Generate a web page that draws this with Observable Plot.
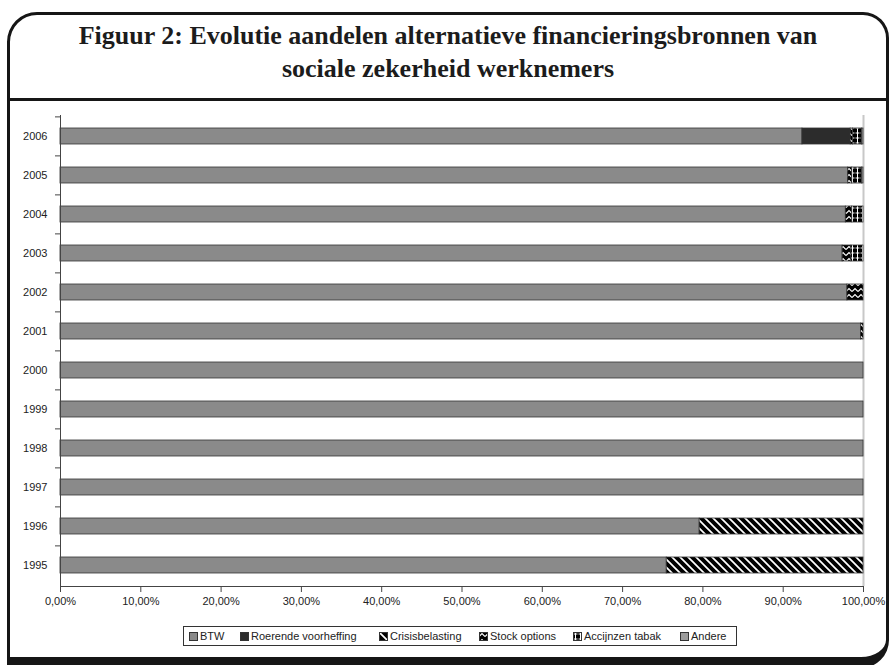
<!DOCTYPE html>
<html>
<head>
<meta charset="utf-8">
<script src="https://cdn.jsdelivr.net/npm/d3@7"></script>
<script src="https://cdn.jsdelivr.net/npm/@observablehq/plot@0.6"></script>
<style>
  html, body { margin: 0; padding: 0; background: #fff; }
  #page { position: relative; width: 892px; height: 665px; overflow: hidden; background: #fff; }
  #frame {
    position: absolute; left: 7px; top: 12px; width: 882px; height: 656px;
    box-sizing: border-box; border: 3px solid #161616; border-bottom-width: 11px;
    border-radius: 30px 26px 28px 0;
  }
  #rule { position: absolute; left: 7px; top: 98px; width: 882px; height: 3px; background: #161616; }
  #title {
    position: absolute; left: 7px; top: 19px; width: 882px; text-align: center;
    font-family: "Liberation Serif", "Times New Roman", serif; font-weight: bold;
    font-size: 26px; line-height: 33px; color: #1c1c1c;
  }
  #chart { position: absolute; left: 0; top: 101px; }
  #chart svg { display: block; }
  #legend {
    position: absolute; left: 183px; top: 626px; width: 554px; height: 20px;
    box-sizing: border-box; border: 1px solid #333; background: #fff;
    font-family: "Liberation Sans", Arial, sans-serif; font-size: 11px; color: #222;
  }
  .item { position: absolute; top: 3px; height: 13px; line-height: 13px; white-space: nowrap; }
  .item svg { position: absolute; left: 0; top: 2px; }
  .item span { position: absolute; left: 11px; top: 0; }
</style>
</head>
<body>
<div id="page">
  <svg width="0" height="0" style="position:absolute">
    <defs>
      <pattern id="pat-crisis" width="8" height="8" patternUnits="userSpaceOnUse">
        <rect width="8" height="8" fill="#000"/>
        <path d="M-1,-1 L9,9 M-1,7 L1,9 M7,-1 L9,1" stroke="#fff" stroke-width="1.7"/>
      </pattern>
      <pattern id="pat-stock" width="6" height="6" patternUnits="userSpaceOnUse">
        <rect width="6" height="6" fill="#000"/>
        <path d="M0,4.5 L3,1.5 L6,4.5" fill="none" stroke="#fff" stroke-width="1.2"/>
      </pattern>
      <pattern id="pat-tabak" width="5" height="5" patternUnits="userSpaceOnUse">
        <rect width="5" height="5" fill="#000"/>
        <path d="M2.5,0 L2.5,5 M0.5,2 L4.5,2" stroke="#fff" stroke-width="1"/>
      </pattern>
    </defs>
  </svg>
  <div id="frame"></div>
  <div id="rule"></div>
  <div id="title">Figuur 2: Evolutie aandelen alternatieve financieringsbronnen van<br>sociale zekerheid werknemers</div>
  <div id="chart"></div>
  <div id="legend"></div>
</div>
<script>
// Years, top to bottom
const years = ["2006", "2005", "2004", "2003", "2002", "2001", "2000", "1999", "1998", "1997", "1996", "1995"];

// Share of each alternative financing source (fraction of total), per year above
const btw        = [0.924, 0.981, 0.978, 0.974, 0.980, 0.997, 1.000, 1.000, 1.000, 1.000, 0.796, 0.755];
const roerende   = [0.060, 0.000, 0.000, 0.000, 0.000, 0.000, 0.000, 0.000, 0.000, 0.000, 0.000, 0.000];
const crisis     = [0.000, 0.000, 0.000, 0.000, 0.000, 0.000, 0.000, 0.000, 0.000, 0.000, 0.204, 0.245];
const stock      = [0.003, 0.005, 0.008, 0.011, 0.020, 0.003, 0.000, 0.000, 0.000, 0.000, 0.000, 0.000];
const tabak      = [0.011, 0.012, 0.014, 0.015, 0.000, 0.000, 0.000, 0.000, 0.000, 0.000, 0.000, 0.000];
const andere     = [0.002, 0.002, 0.000, 0.000, 0.000, 0.000, 0.000, 0.000, 0.000, 0.000, 0.000, 0.000];

const sources = ["BTW", "Roerende voorheffing", "Crisisbelasting", "Stock options", "Accijnzen tabak", "Andere"];
const seriesValues = [btw, roerende, crisis, stock, tabak, andere];
const fills = ["#8a8a8a", "#2c2c2c", "url(#pat-crisis)", "url(#pat-stock)", "url(#pat-tabak)", "#9c9c9c"];

const xTicks = [0, 0.1, 0.2, 0.3, 0.4, 0.5, 0.6, 0.7, 0.8, 0.9, 1.0];
const pct = d => (d * 100).toFixed(2).replace(".", ",") + "%";

// Tidy table for the stacked bars
const rows = [];
sources.forEach((s, i) => {
  years.forEach((y, j) => {
    const v = seriesValues[i][j];
    if (v > 0) rows.push({year: y, source: s, value: v, fill: fills[i]});
  });
});

const W = 892, H = 516, mTop = 14, mBottom = 31, mLeft = 60, mRight = 29;
const step = (H - mTop - mBottom) / years.length;

const chart = Plot.plot({
  width: W,
  height: H,
  marginTop: mTop,
  marginBottom: mBottom,
  marginLeft: mLeft,
  marginRight: mRight,
  style: {fontFamily: "'Liberation Sans', Arial, sans-serif", fontSize: "11px", color: "#222", background: "transparent"},
  x: {domain: [0, 1], ticks: xTicks, tickFormat: pct, label: null},
  y: {domain: years, paddingInner: 0.59, paddingOuter: 0.295, label: null},
  color: {type: "identity"},
  marks: [
    Plot.ruleX([1], {stroke: "#c8c8c8", strokeWidth: 2}),
    Plot.barX(rows, Plot.stackX({
      y: "year", x: "value", z: "source", order: sources,
      fill: "fill", stroke: "#333", strokeWidth: 0.8
    })),
    Plot.axisX({ticks: xTicks, tickFormat: pct, tickSize: 6, tickPadding: 5, stroke: "#444", label: null}),
    Plot.axisY({tickSize: 0, tickPadding: 13, label: null}),
    Plot.axisY({tickSize: 5, tickFormat: () => "", dy: -step / 2, stroke: "#444", label: null}),
    Plot.frame({anchor: "bottom", stroke: "#444"}),
    Plot.frame({anchor: "left", stroke: "#444"})
  ]
});
document.getElementById("chart").appendChild(chart);

// Legend
const legendLefts = [5, 56, 195, 295, 389, 496];
const legend = document.getElementById("legend");
sources.forEach((s, i) => {
  const item = document.createElement("div");
  item.className = "item";
  item.style.left = legendLefts[i] + "px";
  item.innerHTML = `<svg width="9" height="9"><rect x="0.5" y="0.5" width="8" height="8" fill="${fills[i]}" stroke="#333" stroke-width="1"/></svg><span>${s}</span>`;
  legend.appendChild(item);
});
</script>
</body>
</html>
